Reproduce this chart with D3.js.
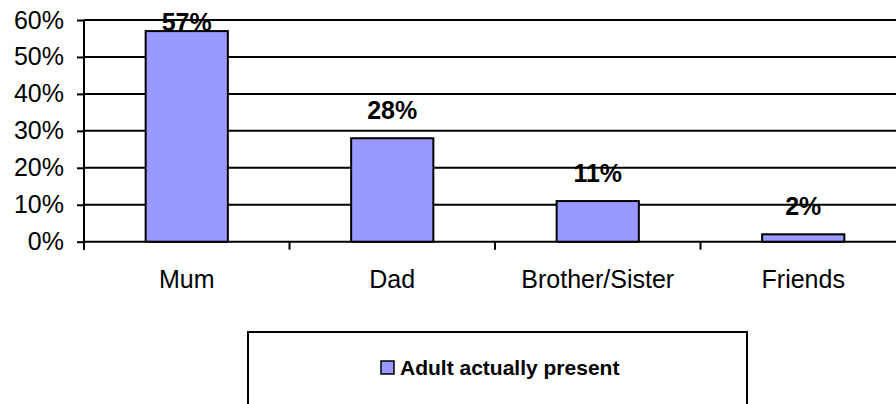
<!DOCTYPE html>
<html><head><meta charset="utf-8">
<script src="https://cdn.jsdelivr.net/npm/d3@7"></script>
<style>html,body{margin:0;padding:0;background:#fff;}svg{display:block;font-family:"Liberation Sans",Arial,sans-serif;}</style>
</head><body>
<svg id="c" width="896" height="404"></svg>
<script>
const categories = ["Mum", "Dad", "Brother/Sister", "Friends"];
const values = [0.57, 0.28, 0.11, 0.02];
const yTicks = [0, 0.1, 0.2, 0.3, 0.4, 0.5, 0.6];
const seriesName = "Adult actually present";

const svg = d3.select("#c");
const pL = 84, pR = 906, pT = 20, pB = 241.7;
const x = d3.scaleBand().domain(categories).range([pL, pR]).paddingInner(0.6).paddingOuter(0.3);
const y = d3.scaleLinear().domain([0, 0.6]).range([pB, pT]);
const fmt = d3.format(".0%");

// gridlines
svg.append("g").selectAll("line").data(yTicks).join("line")
  .attr("x1", pL).attr("x2", 896).attr("y1", d => y(d)).attr("y2", d => y(d))
  .attr("stroke", "#000").attr("stroke-width", 2);

// y axis
const ya = svg.append("g").attr("transform", `translate(${pL},0)`)
  .call(d3.axisLeft(y).tickValues(yTicks).tickFormat(fmt).tickSize(7).tickPadding(13));
ya.select(".domain").attr("stroke", "#000").attr("stroke-width", 2).attr("d", `M0,${pT}V${pB + 8}`);
ya.selectAll(".tick line").attr("stroke", "#000").attr("stroke-width", 2);
ya.selectAll(".tick text").attr("font-size", 25).attr("fill", "#000").attr("font-family", "Liberation Sans, Arial, sans-serif");

// x axis tick marks at band boundaries
const step = x.step();
const bounds = d3.range(categories.length + 1).map(i => pL + i * step);
svg.append("g").selectAll("line").data(bounds).join("line")
  .attr("x1", d => d).attr("x2", d => d).attr("y1", pB).attr("y2", pB + 8)
  .attr("stroke", "#000").attr("stroke-width", 2);

// category labels
const xa = svg.append("g").attr("transform", `translate(0,${pB})`)
  .call(d3.axisBottom(x).tickSize(0).tickPadding(0));
xa.select(".domain").remove();
xa.selectAll(".tick text").attr("font-size", 25).attr("fill", "#000")
  .attr("font-family", "Liberation Sans, Arial, sans-serif").attr("dy", null).attr("y", 46);

// bars
svg.append("g").selectAll("rect").data(values).join("rect")
  .attr("x", (d, i) => x(categories[i])).attr("width", x.bandwidth())
  .attr("y", d => y(d)).attr("height", d => y(0) - y(d))
  .attr("fill", "#9999FF").attr("stroke", "#000").attr("stroke-width", 2);

// data labels
svg.append("g").selectAll("text").data(values).join("text")
  .attr("x", (d, i) => x(categories[i]) + x.bandwidth() / 2)
  .attr("y", d => Math.max(y(d) - 19, 31))
  .attr("text-anchor", "middle").attr("font-size", 25).attr("font-weight", "bold").attr("fill", "#000")
  .text(d => fmt(d));

// legend
const lg = svg.append("g");
lg.append("rect").attr("x", 248).attr("y", 332).attr("width", 499).attr("height", 100)
  .attr("fill", "#fff").attr("stroke", "#000").attr("stroke-width", 2);
lg.append("rect").attr("x", 381).attr("y", 361).attr("width", 13).attr("height", 13)
  .attr("fill", "#9999FF").attr("stroke", "#000").attr("stroke-width", 1.5);
lg.append("text").attr("x", 400).attr("y", 375).attr("font-size", 21).attr("font-weight", "bold")
  .attr("fill", "#000").text(seriesName);
</script>
</body></html>
